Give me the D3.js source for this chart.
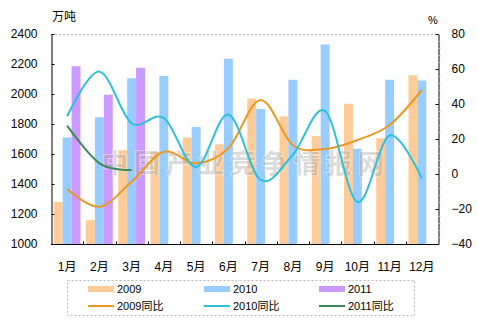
<!DOCTYPE html>
<html>
<head>
<meta charset="utf-8">
<script src="https://cdn.jsdelivr.net/npm/d3@7"></script>
<style>
  body { margin: 0; background: #fff; }
  svg { display: block; }
  text { font-family: "Liberation Sans", Arial, "Noto Sans CJK SC", sans-serif; font-size: 11px; fill: #000; }
</style>
</head>
<body>
<svg id="chart"></svg>
<script>
// monthly output (万吨) and year-on-year growth (%)
var months = ['1月', '2月', '3月', '4月', '5月', '6月', '7月', '8月', '9月', '10月', '11月', '12月'];
var out2009 = [1280, 1160, 1625, 1615, 1710, 1665, 1970, 1850, 1720, 1935, 1705, 2125];
var out2010 = [1710, 1845, 2105, 2120, 1780, 2235, 1900, 2095, 2330, 1635, 2095, 2090];
var out2011 = [2185, 1995, 2175];
var yoy2009 = [-8.6, -18.7, -4.4, 12.7, 6.1, 14.7, 42.3, 16.6, 14.3, 19.4, 28, 48];
var yoy2010 = [33, 58.5, 29, 32, 4, 34, -3.4, 11, 36, -16, 22, -2.5];
var yoy2011 = [27.6, 6.1, 2.3];
var leftTicks = [1000, 1200, 1400, 1600, 1800, 2000, 2200, 2400];
var rightTicks = [-40, -20, 0, 20, 40, 60, 80];

var width = 478, height = 326;
// plot box ("top" is taken by window.top, so prefix them)
var plotLeft = 51, plotRight = 438, plotTop = 34, plotBottom = 244;

var barSeries = [
    {name: '2009', values: out2009, color: '#FFCC99'},
    {name: '2010', values: out2010, color: '#99CCFF'},
    {name: '2011', values: out2011, color: '#CC99FF'}
];
var lineSeries = [
    {name: '2009同比', values: yoy2009, color: '#E89A24'},
    {name: '2010同比', values: yoy2010, color: '#2CC0DC'},
    {name: '2011同比', values: yoy2011, color: '#3A8A5C'}
];

var svg = d3.select('#chart').attr('width', width).attr('height', height);

var x = d3.scaleBand().domain(months).range([plotLeft, plotRight]).paddingInner(0.17).paddingOuter(0.085);
var xs = d3.scaleBand().domain(barSeries.map(function (s) { return s.name; })).range([0, x.bandwidth()]);
var y = d3.scaleLinear().domain([1000, 2400]).range([plotBottom, plotTop]);
var y2 = d3.scaleLinear().domain([-40, 80]).range([plotBottom, plotTop]);

// top border of the plot is a light dashed line
svg.append('line')
    .attr('x1', plotLeft).attr('x2', plotRight)
    .attr('y1', y(2400) + 0.5).attr('y2', y(2400) + 0.5)
    .attr('stroke', '#bbb').attr('stroke-dasharray', '2,2');

// bars
barSeries.forEach(function (s) {
    svg.append('g').selectAll('rect')
        .data(s.values)
        .enter().append('rect')
        .attr('x', function (d, i) { return x(months[i]) + xs(s.name); })
        .attr('y', function (d) { return y(d); })
        .attr('width', xs.bandwidth())
        .attr('height', function (d) { return y(1000) - y(d); })
        .attr('fill', s.color);
});

// site watermark over the bars
svg.append('text')
    .attr('x', 102).attr('y', 173)
    .style('font-family', '"Noto Sans CJK SC", sans-serif')
    .style('font-size', '26px')
    .style('font-weight', 'bold')
    .style('letter-spacing', '6px')
    .style('fill', '#a8a8a8')
    .style('opacity', 0.4)
    .style('stroke', '#fff')
    .style('stroke-width', 2)
    .style('paint-order', 'stroke')
    .text('中国产业竞争情报网');

// smoothed growth lines
var line = d3.line()
    .x(function (d, i) { return x(months[i]) + x.bandwidth() / 2; })
    .y(function (d) { return y2(d); })
    .curve(d3.curveCardinal.tension(0));

lineSeries.forEach(function (s) {
    svg.append('path')
        .datum(s.values)
        .attr('d', line)
        .attr('fill', 'none')
        .attr('stroke', s.color)
        .attr('stroke-width', 2);
});

// axes
var axisLeft = d3.axisLeft(y).tickValues(leftTicks).tickFormat(d3.format('d'))
    .tickSizeInner(-3).tickSizeOuter(0).tickPadding(14);
var gl = svg.append('g').attr('transform', 'translate(' + (plotLeft + 0.5) + ',0)').call(axisLeft);
gl.select('.domain').attr('stroke', '#000');
gl.selectAll('.tick line').attr('stroke', '#000');
gl.selectAll('text').style('font-size', '12px');

var axisRight = d3.axisRight(y2).tickValues(rightTicks).tickFormat(d3.format('d'))
    .tickSizeInner(-3).tickSizeOuter(0).tickPadding(13);
var gr = svg.append('g').attr('transform', 'translate(' + (plotRight + 0.5) + ',0)').call(axisRight);
gr.select('.domain').attr('stroke', '#000');
gr.selectAll('.tick line').attr('stroke', '#000');
gr.selectAll('text').style('font-size', '12px');

// minor ticks on the right axis
gr.selectAll('.minor')
    .data(d3.range(-40, 80, 4).filter(function (v) { return v % 20 != 0; }))
    .enter().append('line')
    .attr('class', 'minor')
    .attr('x1', 0).attr('x2', 2)
    .attr('y1', function (d) { return Math.round(y2(d)) + 0.5; })
    .attr('y2', function (d) { return Math.round(y2(d)) + 0.5; })
    .attr('stroke', '#bbb');

var gb = svg.append('g').attr('transform', 'translate(0,' + (plotBottom + 0.5) + ')');
gb.append('line').attr('x1', plotLeft).attr('x2', plotRight + 1).attr('stroke', '#000');
gb.selectAll('.sep')
    .data(d3.range(1, months.length))
    .enter().append('line')
    .attr('x1', function (i) { return Math.round(x(months[i]) - x.step() * x.paddingInner() / 2) + 0.5; })
    .attr('x2', function (i) { return Math.round(x(months[i]) - x.step() * x.paddingInner() / 2) + 0.5; })
    .attr('y1', 0).attr('y2', -3)
    .attr('stroke', '#000');
gb.selectAll('.lab')
    .data(months)
    .enter().append('text')
    .attr('x', function (d) { return x(d) + x.bandwidth() / 2; })
    .attr('y', 26)
    .attr('text-anchor', 'middle')
    .style('font-size', '12px')
    .text(function (d) { return d; });

// units
svg.append('text').attr('x', 52).attr('y', 21).style('font-size', '12px').text('万吨');
svg.append('text').attr('x', 428).attr('y', 24).style('font-size', '11px').text('%');

// legend
var lg = svg.append('g');
lg.append('rect')
    .attr('x', 67.5).attr('y', 280.5).attr('width', 347).attr('height', 35)
    .attr('fill', 'none').attr('stroke', '#bbb').attr('stroke-dasharray', '2,2');
var colX = [88, 204, 319];
barSeries.forEach(function (s, i) {
    lg.append('rect').attr('x', colX[i]).attr('y', 286).attr('width', 26).attr('height', 6).attr('fill', s.color);
    lg.append('text').attr('x', colX[i] + 29).attr('y', 293).text(s.name);
});
lineSeries.forEach(function (s, i) {
    lg.append('line').attr('x1', colX[i]).attr('x2', colX[i] + 26).attr('y1', 306).attr('y2', 306)
        .attr('stroke', s.color).attr('stroke-width', 2);
    lg.append('text').attr('x', colX[i] + 29).attr('y', 310).text(s.name);
});
</script>
</body>
</html>
